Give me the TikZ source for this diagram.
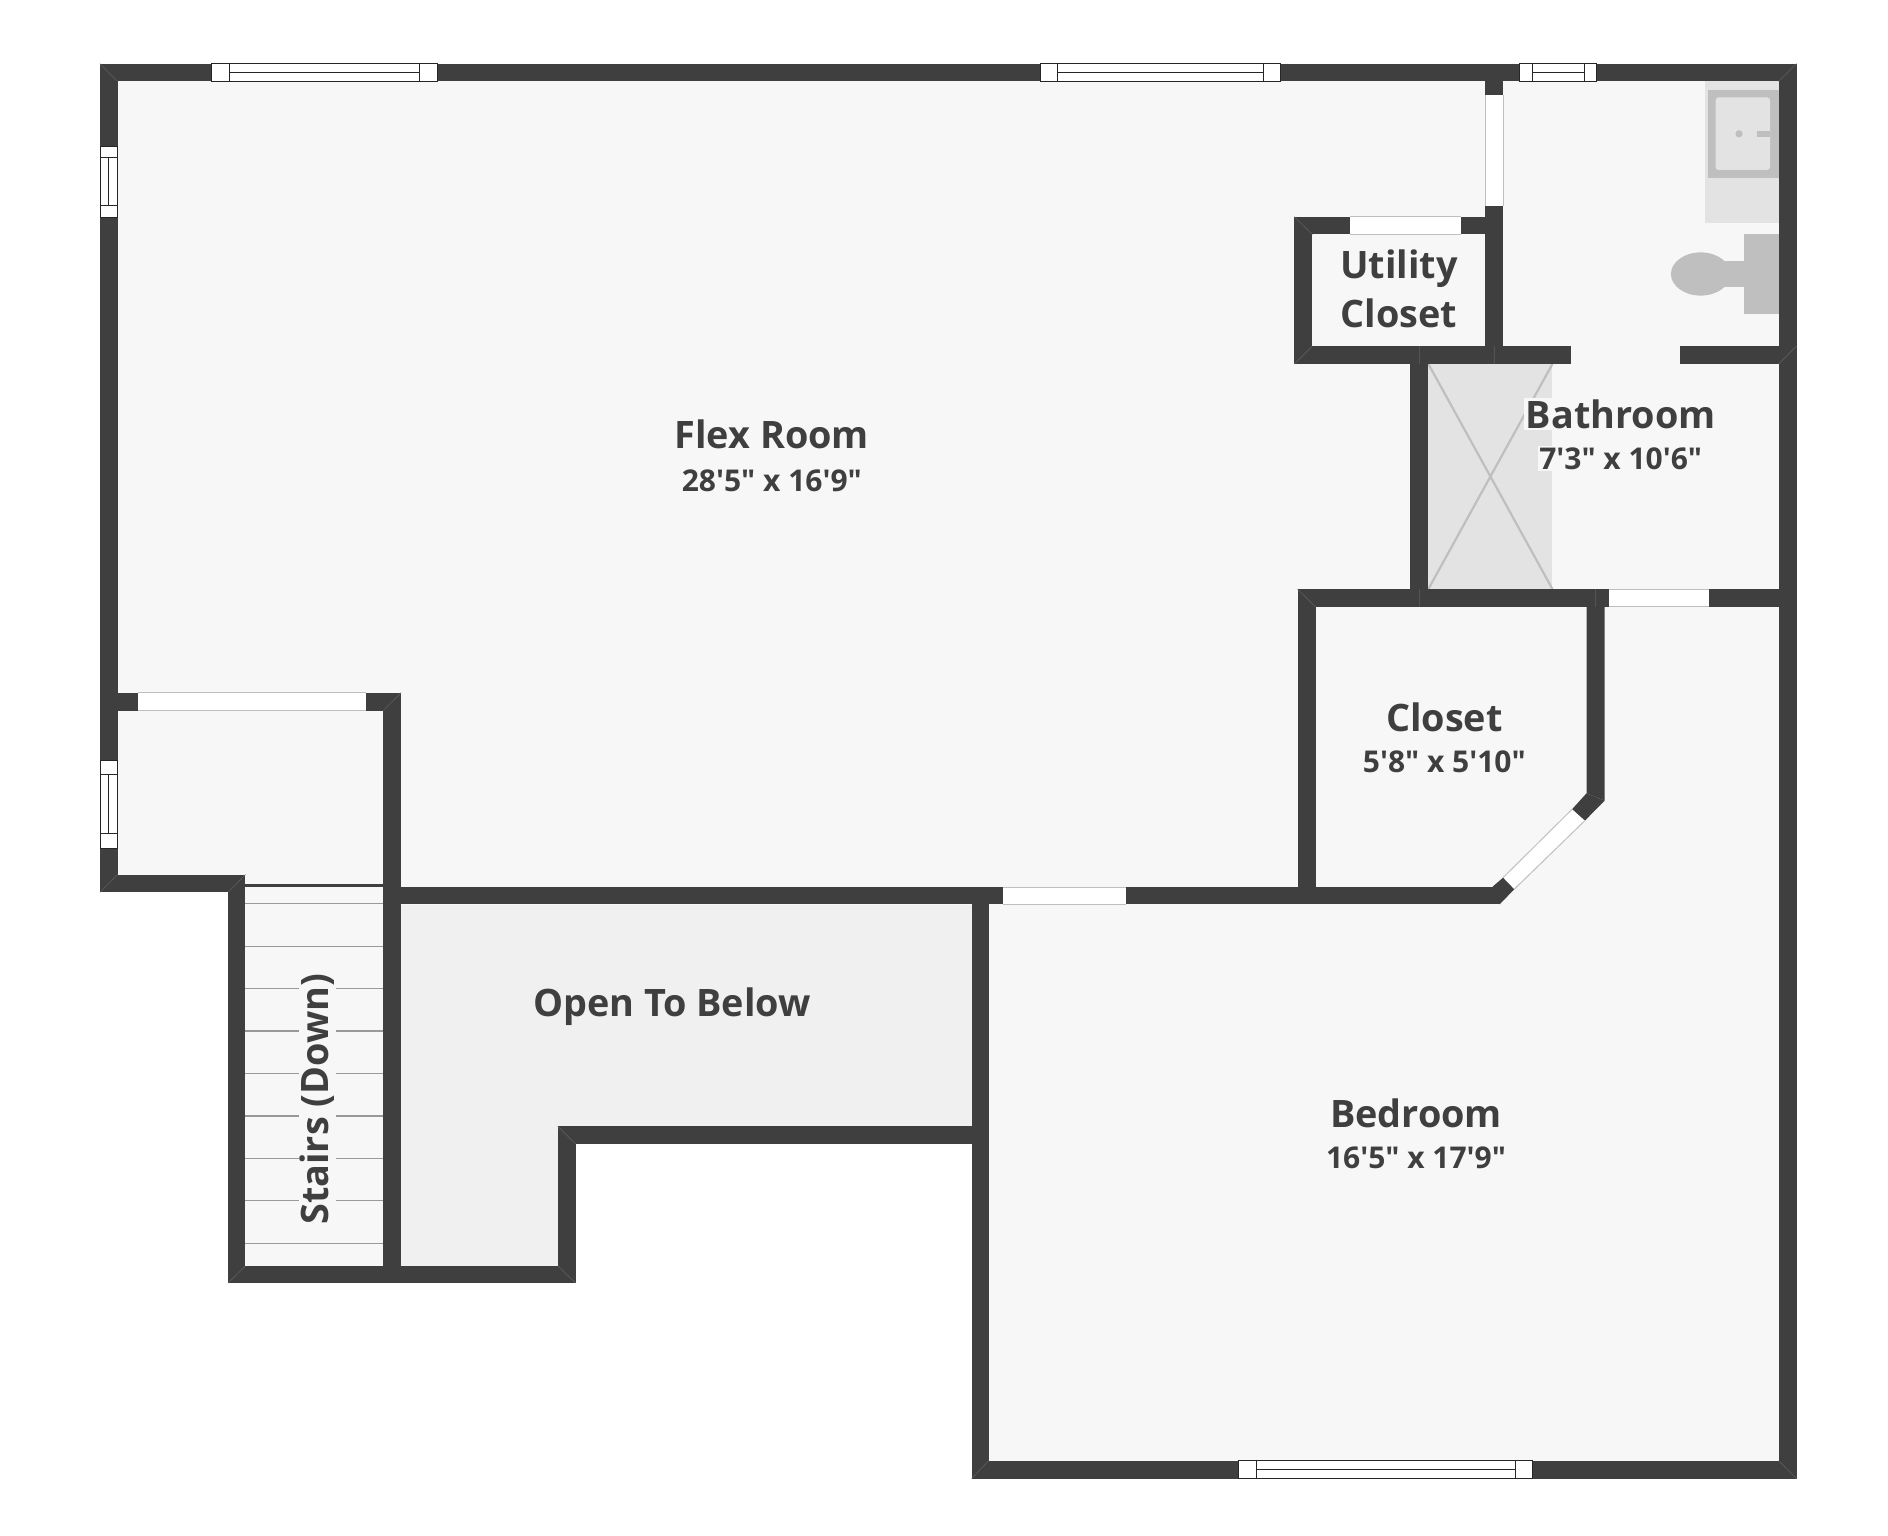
\documentclass[tikz,border=0pt]{standalone}
\usepackage{fontspec}
\newfontfamily\labfont{Open Sans}
\definecolor{wallc}{HTML}{3F3F3F}
\definecolor{floorc}{HTML}{F7F7F7}
\definecolor{openc}{HTML}{F0F0F0}
\definecolor{fixl}{HTML}{E3E3E3}
\definecolor{fixd}{HTML}{BFBFBF}
\definecolor{seamc}{HTML}{5E5E5E}
\tikzset{
  wall/.style={fill=wallc},
  seam/.style={draw=seamc,line width=0.6pt},
  gapfill/.style={fill=white},
  gapline/.style={draw=fixd,line width=1pt},
  winframe/.style={draw=black!85,line width=1pt,fill=white},
  treadline/.style={draw=black!40,line width=1.4pt},
  roomlabel/.style={font=\labfont\fontsize{37.8}{37.8}\selectfont\bfseries,text=wallc,inner sep=1.5pt},
  dimlabel/.style={font=\labfont\fontsize{30}{30}\selectfont\bfseries,text=wallc,inner sep=1.5pt},
}
\newcommand{\winH}[6]{% x1 x2 ix1 ix2 y1 y2
  \filldraw[winframe] (#1,#5) rectangle (#2,#6);
  \draw[winframe] (#3,#5) rectangle (#4,#6);
  \draw[winframe] (#3,{(#5+#6)/2}) -- (#4,{(#5+#6)/2});
}
\newcommand{\winV}[6]{% y1 y2 iy1 iy2 x1 x2
  \filldraw[winframe] (#5,#1) rectangle (#6,#2);
  \draw[winframe] (#5,#3) rectangle (#6,#4);
  \draw[winframe] ({(#5+#6)/2},#3) -- ({(#5+#6)/2},#4);
}
\newcommand{\gapH}[4]{% x1 x2 y1 y2
  \fill[gapfill] (#1,#3) rectangle (#2,#4);
  \draw[gapline] (#1,#3) -- (#2,#3) (#1,#4) -- (#2,#4);
}
\newcommand{\gapV}[4]{% y1 y2 x1 x2
  \fill[gapfill] (#3,#1) rectangle (#4,#2);
  \draw[gapline] (#3,#1) -- (#3,#2) (#4,#1) -- (#4,#2);
}
\begin{document}
\begin{tikzpicture}[x=1pt,y=-1pt]
\useasboundingbox (0,0) rectangle (1888,1536);
\fill[white] (0,0) rectangle (1888,1536);
% floors
\fill[floorc] (100,64) -- (1796,64) -- (1796,1478) -- (972,1478) -- (972,1144) -- (575,1144) -- (575,1283) -- (228,1283) -- (228,892) -- (100,892) -- cycle;
\fill[openc] (401,905) -- (972,905) -- (972,1126.3) -- (557.9,1126.3) -- (557.9,1266) -- (401,1266) -- cycle;
% shower
\fill[fixl] (1428.4,364) rectangle (1552.4,589);
\draw[fixd,line width=2.2pt] (1428.4,364) -- (1552.4,589) (1552.4,364) -- (1428.4,589);
% vanity
\fill[fixl] (1705.3,81.3) rectangle (1778.6,222.5);
\fill[fixd] (1708,89.8) rectangle (1778.6,177.8);
\fill[fixl,rounded corners=3pt] (1715.6,97.4) rectangle (1770,170);
\fill[fixd] (1739,133.8) circle (3.6);
\fill[fixd] (1757.3,131) rectangle (1770,136.6);
% toilet
\fill[fixd] (1743.5,234.4) rectangle (1778.6,314);
\fill[fixd] (1725,260.8) rectangle (1743.5,286.8);
\fill[fixd] (1700.7,274) ellipse (29.8 and 21.6);
% stair treads
\foreach \ty in {903.3,946.2,988.3,1030.8,1073.7,1115.8,1158.3,1200.4,1243.3}
  \draw[treadline] (245.4,\ty) -- (383.2,\ty);
\fill[wallc] (245.4,883.5) rectangle (383.2,887.3);
% outer walls
\fill[wall] (100,63.7) rectangle (1796.6,81.3);
\fill[wall] (1778.6,63.7) rectangle (1796.6,1478.5);
\fill[wall] (100,63.7) rectangle (117.5,892.3);
\fill[wall] (971.7,1460.8) rectangle (1796.6,1478.5);
\fill[wall] (971.7,887.3) rectangle (988.6,1478.5);
% bathroom, utility
\fill[wall] (1485.3,81) rectangle (1503.2,364);
\fill[wall] (1294.4,216.8) rectangle (1503.2,234.4);
\fill[wall] (1294.4,216.8) rectangle (1312.4,364);
\fill[wall] (1294.4,346) rectangle (1570.7,364);
\fill[wall] (1679.5,346) rectangle (1778.6,364);
\fill[wall] (1410.2,364) rectangle (1428.4,589);
\fill[wall] (1297.5,589) rectangle (1778.6,606.8);
% closet
\fill[wall] (1297.5,589) rectangle (1315.5,904.3);
\fill[wall] (1586.5,606) -- (1604.7,606) -- (1604.7,800.7) -- (1586.5,793.3) -- cycle;
\fill[wall] (1586.5,793.3) -- (1604.7,800.7) -- (1584.8,820.7) -- (1572,809.3) -- cycle;
\fill[gapfill] (1572,809.3) -- (1584.8,820.7) -- (1514.2,889.3) -- (1503,877.7) -- cycle;
\draw[gapline] (1572,809.3) -- (1503,877.7) (1584.8,820.7) -- (1514.2,889.3);
\fill[wall] (1503,877.7) -- (1514.2,889.3) -- (1499.7,904.3) -- (1492.5,886.7) -- cycle;
\fill[wall] (401,887.3) rectangle (1499.7,904.3);
% upper-left room and stairs
\fill[wall] (100,692.8) rectangle (401.1,710.5);
\fill[wall] (383.2,692.8) rectangle (401.1,1283);
\fill[wall] (100,874.6) rectangle (245.4,892.3);
\fill[wall] (228,874.6) rectangle (245.4,1283);
\fill[wall] (228,1266) rectangle (575.7,1283);
\fill[wall] (557.9,1126.3) rectangle (575.7,1283);
\fill[wall] (557.9,1126.3) rectangle (971.7,1144);
% openings
\gapV{95.5}{205.7}{1485.3}{1503.2}
\gapH{1350}{1461}{216.8}{234.4}
\gapH{1608.9}{1708.7}{589}{606.8}
\gapH{1003}{1125.8}{887.3}{904.3}
\gapH{138.2}{366.4}{692.8}{710.5}
% windows
\winH{211.7}{437}{229}{419}{63.7}{81.3}
\winH{1040.3}{1280}{1057}{1263}{63.7}{81.3}
\winH{1519}{1596.8}{1532}{1584.4}{63.7}{81.3}
\winH{1238.7}{1532}{1256.2}{1515.1}{1460.8}{1478.5}
\winV{146.7}{217}{158}{205}{100}{117.5}
\winV{760.2}{848.1}{774.5}{833.8}{100}{117.5}
% wall seams
\draw[seam] (100,63.7) -- (117.5,81.3) (1796.6,63.7) -- (1778.6,81.3)
  (1796.6,1478.5) -- (1778.6,1460.8) (971.7,1478.5) -- (988.6,1460.8)
  (100,892.3) -- (117.5,874.6) (228,1283) -- (245.4,1266)
  (228,892.3) -- (245.4,874.6) (575.7,1283) -- (557.9,1266)
  (557.9,1126.3) -- (575.7,1144) (401.1,692.8) -- (383.2,710.5)
  (1297.5,589) -- (1315.5,606.8) (1294.4,216.8) -- (1312.4,234.4)
  (1294.4,364) -- (1312.4,346) (1494.2,346) -- (1494.2,364)
  (1419.3,346) -- (1419.3,364) (1419.3,589) -- (1419.3,606.8)
  (1595.6,589) -- (1595.6,606.8) (1778.6,364) -- (1796.6,346);
% labels
\node[roomlabel] (flex) at (771.8,434.7) {Flex Room};
\node[dimlabel] (flexdim) at (771.8,480.5) {28'5" x 16'9"};
\node[roomlabel] (utility) at (1399,268.5) {Utility};
\node[roomlabel] (utilitycl) at (1399,313) {Closet};
\node[roomlabel,fill=floorc] (bath) at (1620.7,414.2) {Bathroom};
\node[dimlabel,fill=floorc] (bathdim) at (1620.7,458.5) {7'3" x 10'6"};
\node[roomlabel] (closet) at (1444.3,717.6) {Closet};
\node[dimlabel] (closetdim) at (1444.3,762) {5'8" x 5'10"};
\node[roomlabel] (open) at (671.9,1006.5) {Open To Below};
\node[roomlabel] (bed) at (1416,1113.8) {Bedroom};
\node[dimlabel] (beddim) at (1416,1158) {16'5" x 17'9"};
\node[roomlabel,fill=floorc,rotate=90] (stairs) at (317.5,1099.3) {Stairs (Down)};
\end{tikzpicture}
\end{document}
